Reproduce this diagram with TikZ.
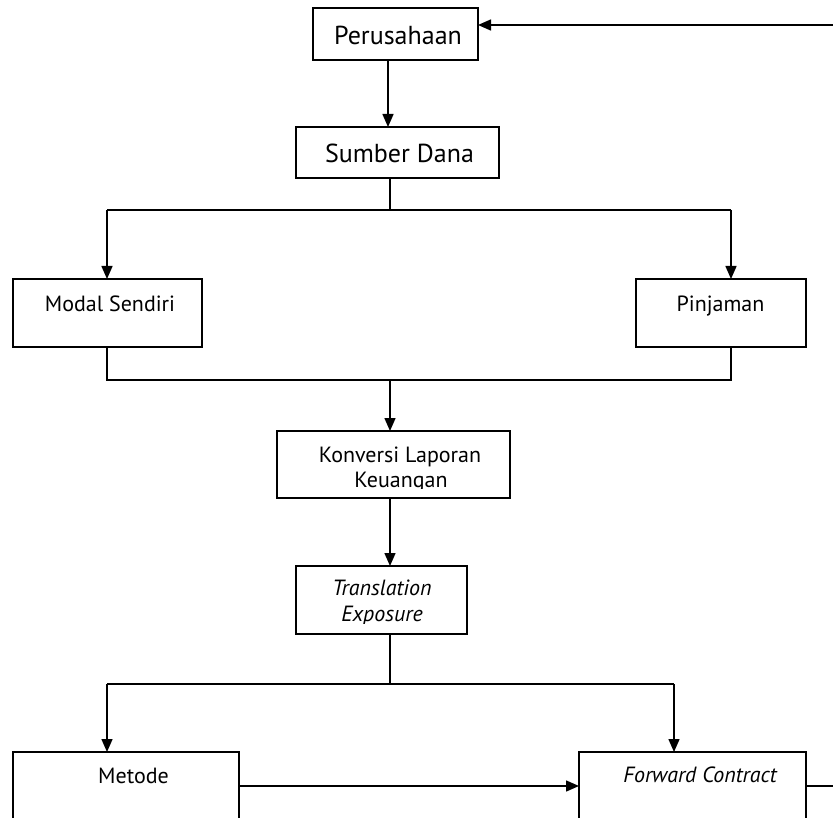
\documentclass[tikz,border=0pt]{standalone}
\usepackage{fontspec}
\setmainfont{PT Sans}
\usetikzlibrary{arrows.meta}
\begin{document}
\begin{tikzpicture}[x=1pt,y=-1pt,
  box/.style={draw, line width=1.5pt, inner sep=0pt, outer sep=0pt},
  conn/.style={line width=1.5pt},
  arr/.style={conn, -{Triangle[length=13pt,width=11pt]}},
  big/.style={font=\fontsize{26}{30}\selectfont, anchor=base, inner sep=0pt},
  small/.style={font=\fontsize{22}{25}\selectfont, anchor=base, inner sep=0pt},
  smallit/.style={font=\fontsize{22}{25}\selectfont\itshape, anchor=base, inner sep=0pt}]
\clip (0,0) rectangle (833,818);
\fill[white] (0,0) rectangle (833,818);
% boxes
\node[box, minimum width=165pt, minimum height=52pt] (per) at (395.5,34) {};
\node[box, minimum width=203pt, minimum height=51pt] (sd) at (397.5,152.5) {};
\node[box, minimum width=189pt, minimum height=68pt] (ms) at (107.5,313) {};
\node[box, minimum width=170pt, minimum height=68pt] (pj) at (721,313) {};
\node[box, minimum width=233pt, minimum height=67pt] (kv) at (393.5,464.5) {};
\node[box, minimum width=171pt, minimum height=68pt] (te) at (381.5,600) {};
\node[box, minimum width=226pt, minimum height=100pt] (me) at (126,802) {};
\node[box, minimum width=227pt, minimum height=100pt] (fc) at (692.5,802) {};
% texts
\node[big] (tper) at (398,45) {Perusahaan};
\node[big] (tsd) at (399.5,163) {Sumber Dana};
\node[small] (tms) at (110,312) {Modal Sendiri};
\node[small] (tpj) at (720.5,312) {Pinjaman};
\node[small] (tkv) at (400,462) {Konversi Laporan};
\begin{scope}
  \clip (270,466) rectangle (520,488.5);
  \node[small] (tkv2) at (401,487) {Keuangan};
\end{scope}
\node[smallit] (tte) at (382,595) {Translation};
\begin{scope}
  \clip (290,600) rectangle (470,623);
  \node[smallit] (tte2) at (382,621) {Exposure};
\end{scope}
\node[small] (tme) at (133.5,783) {Metode};
\node[smallit] (tfc) at (700,782) {Forward Contract};
% connectors
\coordinate (inR) at (833,25);
\draw[arr] (inR) -- (inR -| per.east);
\coordinate (xa) at (388,0);
\draw[arr] (xa |- per.south) -- (xa |- sd.north);
\coordinate (sC) at (390,210);
\coordinate (sL) at (107,210);
\coordinate (sR) at (731,210);
\draw[conn] (sC |- sd.south) -- (sC);
\draw[conn] (sL) -- (sR);
\draw[arr] (sL) -- (sL |- ms.north);
\draw[arr] (sR) -- (sR |- pj.north);
\coordinate (mL) at (107,380);
\coordinate (mR) at (731,380);
\coordinate (mC) at (390,380);
\draw[conn] (mL |- ms.south) -- (mL) -- (mR) -- (mR |- pj.south);
\draw[arr] (mC) -- (mC |- kv.north);
\draw[arr] (mC |- kv.south) -- (mC |- te.north);
\coordinate (tC) at (390,684);
\coordinate (tL) at (107,684);
\coordinate (tR) at (674,684);
\draw[conn] (tC |- te.south) -- (tC);
\draw[conn] (tL) -- (tR);
\draw[arr] (tL) -- (tL |- me.north);
\draw[arr] (tR) -- (tR |- fc.north);
\coordinate (hy) at (0,786);
\draw[arr] (hy -| me.east) -- (hy -| fc.west);
\coordinate (outR) at (833,786);
\draw[conn] (outR -| fc.east) -- (outR);
\end{tikzpicture}
\end{document}
